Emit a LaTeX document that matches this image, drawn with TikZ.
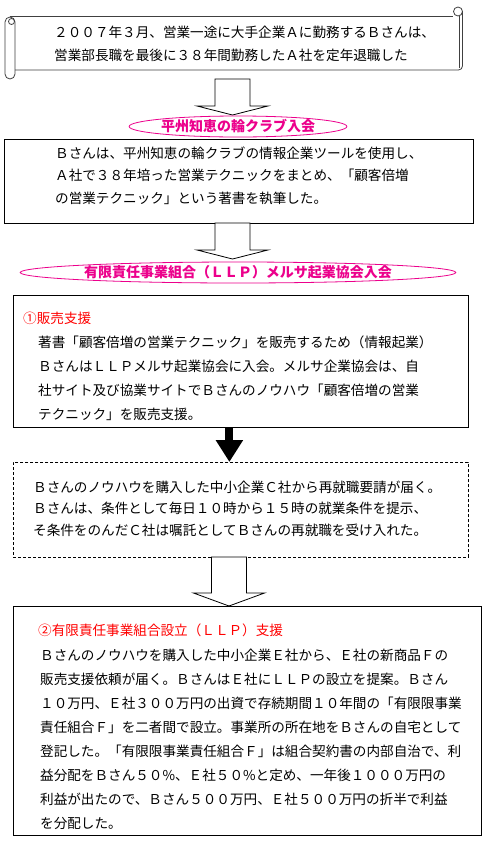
\documentclass[tikz,border=0pt]{standalone}
\usepackage{fontspec}
\setmainfont{Noto Sans CJK JP}
\usepackage{xcolor}
\usepackage{tikz}
\usetikzlibrary{shapes.geometric, arrows.meta}

\tikzset{
    pics/fat_down/.style n args={2}{code={
        \draw[fat_line] (-17.5,0) -- (17.5,0) -- (17.5,#1) -- (35.5,#1) -- (0,{#1+#2}) -- (-35.5,#1) -- (-17.5,#1) -- cycle;
    }}
}

\begin{document}
\begin{tikzpicture}[x=1pt, y=-1pt,
    plain_box/.style={draw=black, line width=0.8pt, anchor=north west, inner sep=0pt},
    dash_box/.style={plain_box, dash pattern=on 3pt off 2pt},
    join_oval/.style={ellipse, draw=magenta, line width=0.8pt, fill=white, inner sep=0pt, text=magenta, font=\bfseries\fontsize{14}{14}\selectfont},
    body_text/.style={anchor=north west, inner sep=0pt, align=left, font=\fontsize{13.6}{#1}\selectfont},
    head_text/.style={anchor=north west, inner sep=0pt, text=red, font=\fontsize{13.6}{16}\selectfont},
    fat_line/.style={draw=black, line width=0.8pt, fill=white},
    scroll_line/.style={draw=black!75, line width=0.8pt}
]
    \fill[white] (0,0) rectangle (490,860);
    \useasboundingbox (0,0) rectangle (490,860);

    % Scroll banner (retirement)
    \draw[scroll_line] (10,16) -- (453,16);
    \draw[scroll_line] (458,11.5) circle (4.5);
    \draw[scroll_line, rounded corners=4pt] (462.5,11.5) -- (462.5,70) -- (15,70);
    \draw[scroll_line] (459.5,16) -- (459.5,68);
    \draw[scroll_line, rounded corners=5pt] (5,17) rectangle (15,79);
    \draw[scroll_line] (11.5,21.5) circle (3);
    \node (scroll) [body_text=23] at (54,25.5) {２００７年３月、営業一途に大手企業Ａに勤務するＢさんは、\\営業部長職を最後に３８年間勤務したＡ社を定年退職した};

    \pic at (232.5,79) {fat_down={27}{9}};

    % Club membership
    \node (club_join) [join_oval, minimum width=205pt, minimum height=21pt] at (238,126.5) {平州知恵の輪クラブ入会};
    \node (club) [plain_box, minimum width=469pt, minimum height=84pt] at (4,139) {};
    \node (club_text) [body_text=22.5] at (55,146.5) {Ｂさんは、平州知恵の輪クラブの情報企業ツールを使用し、\\Ａ社で３８年培った営業テクニックをまとめ、「顧客倍増\\の営業テクニック」という著書を執筆した。};

    \pic at (232.5,223) {fat_down={27}{9}};

    % LLP association membership
    \node (llp_join) [join_oval, minimum width=420pt, minimum height=21pt] at (238,272.5) {有限責任事業組合（ＬＬＰ）メルサ起業協会入会};

    % (1) Sales support
    \node (sell) [plain_box, minimum width=455pt, minimum height=132pt] at (13,295) {};
    \node (sell_title) [head_text] at (23,311.5) {①販売支援};
    \node (sell_text) [body_text=24] at (38,335.5) {著書「顧客倍増の営業テクニック」を販売するため（情報起業）\\ＢさんはＬＬＰメルサ起業協会に入会。メルサ企業協会は、自\\社サイト及び協業サイトでＢさんのノウハウ「顧客倍増の営業\\テクニック」を販売支援。};

    % Re-employment
    \node (rehire) [dash_box, minimum width=455pt, minimum height=95pt] at (13,462) {};
    \node (rehire_text) [body_text=21.5] at (33,480.5) {Ｂさんのノウハウを購入した中小企業Ｃ社から再就職要請が届く。\\Ｂさんは、条件として毎日１０時から１５時の就業条件を提示、\\そ条件をのんだＣ社は嘱託としてＢさんの再就職を受け入れた。};

    \draw[line width=8pt, -{Triangle[width=26pt, length=22pt]}] ([xshift=-11.5pt]sell.south) -- ([xshift=-11.5pt]rehire.north);

    \pic at (229,557) {fat_down={36}{13}};

    % (2) LLP establishment support
    \node (llp) [plain_box, minimum width=468pt, minimum height=229pt] at (13,606) {};
    \node (llp_title) [head_text] at (38,623.5) {②有限責任事業組合設立（ＬＬＰ）支援};
    \node (llp_text) [body_text=24] at (40,648.5) {Ｂさんのノウハウを購入した中小企業Ｅ社から、Ｅ社の新商品Ｆの\\販売支援依頼が届く。ＢさんはＥ社にＬＬＰの設立を提案。Ｂさん\\１０万円、Ｅ社３００万円の出資で存続期間１０年間の「有限限事業\\責任組合Ｆ」を二者間で設立。事業所の所在地をＢさんの自宅として\\登記した。「有限限事業責任組合Ｆ」は組合契約書の内部自治で、利\\益分配をＢさん５０\%、Ｅ社５０\%と定め、一年後１０００万円の\\利益が出たので、Ｂさん５００万円、Ｅ社５００万円の折半で利益\\を分配した。};
\end{tikzpicture}
\end{document}
